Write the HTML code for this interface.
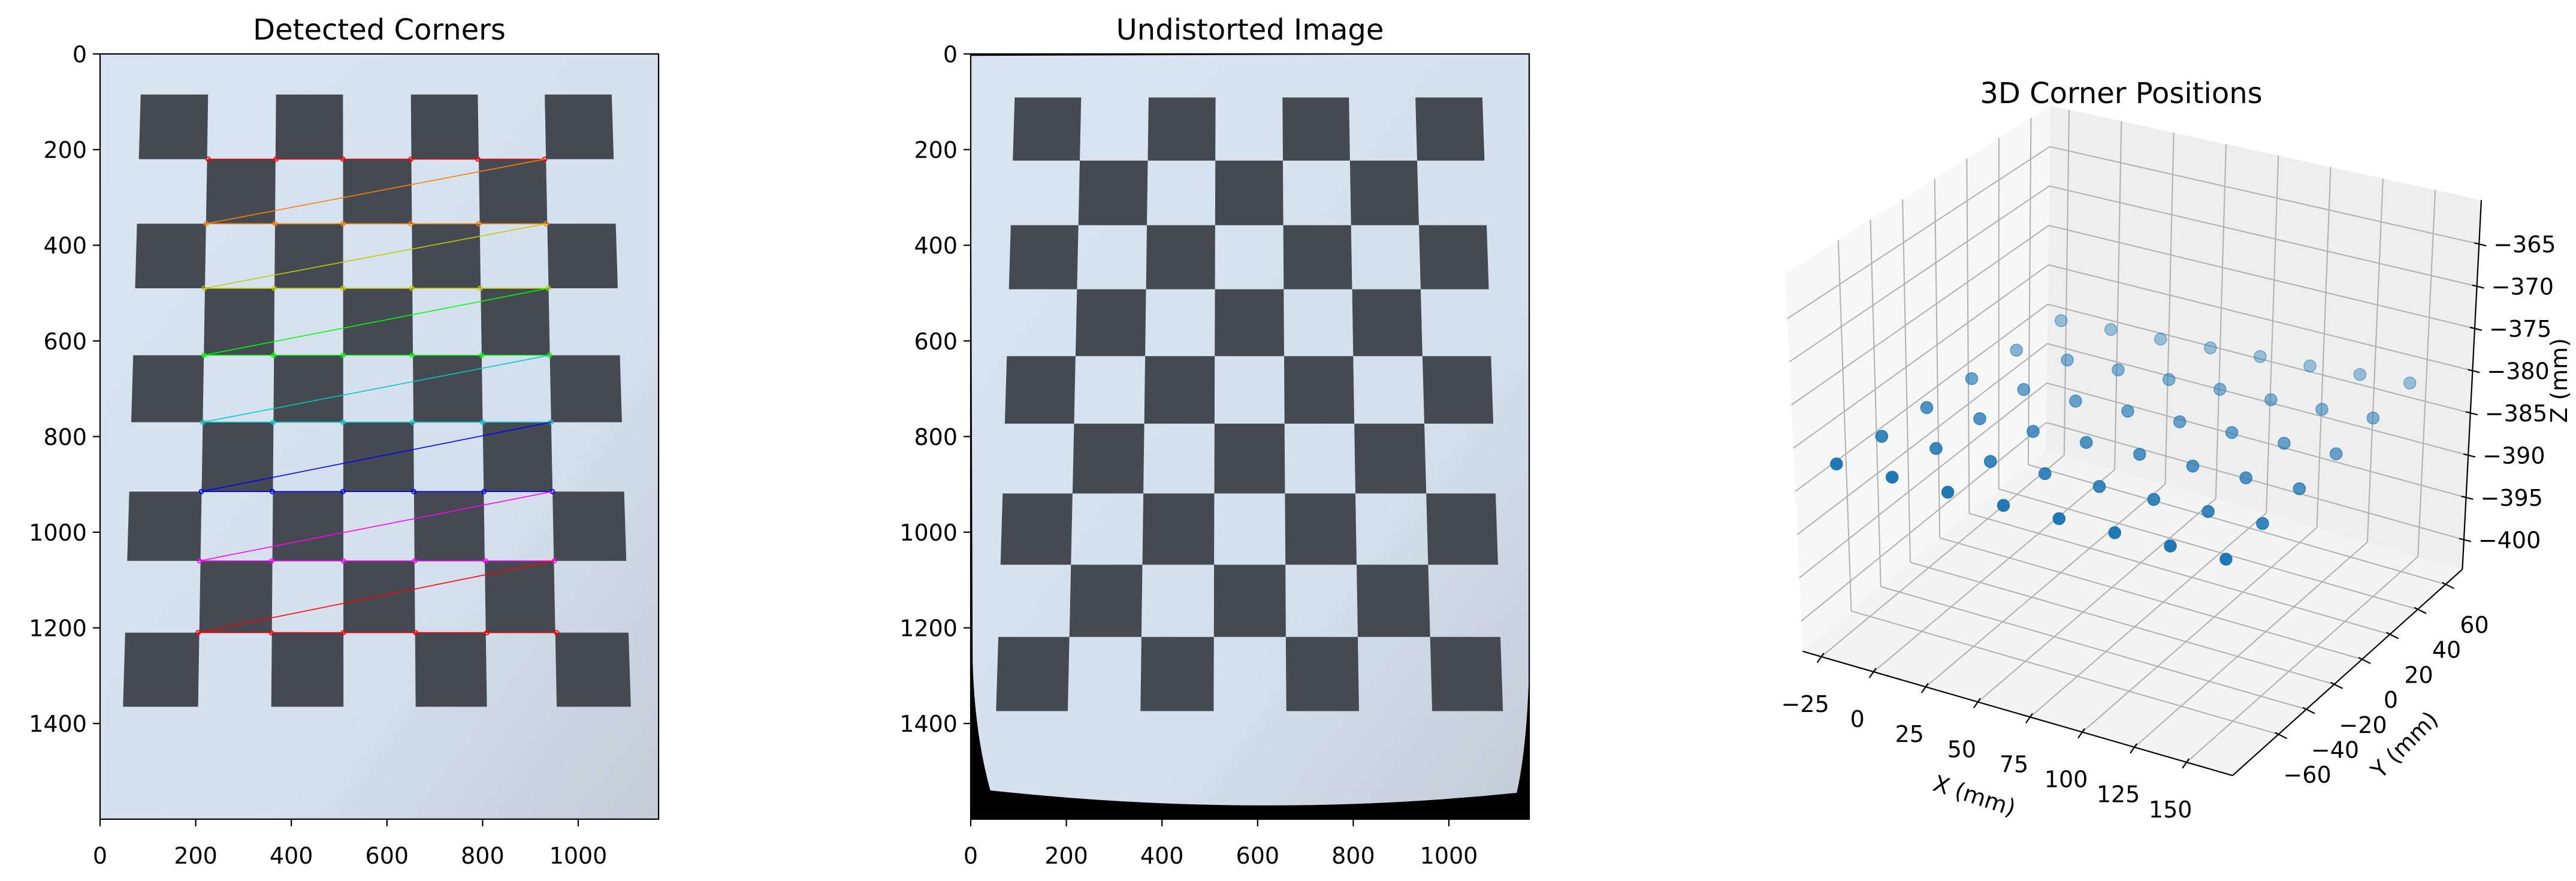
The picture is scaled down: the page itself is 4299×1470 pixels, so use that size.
<!DOCTYPE html>
<html><head><meta charset="utf-8">
<style>
html,body{margin:0;padding:0;background:#fff;}
svg{display:block;font-family:"DejaVu Sans","Liberation Sans",sans-serif;}
</style></head>
<body>
<svg id="fig" width="4299" height="1470" viewBox="0 0 4299 1470" xmlns="http://www.w3.org/2000/svg">
<defs>
<linearGradient id="paper" x1="0" y1="0" x2="1" y2="1">
<stop offset="0" stop-color="#d8e4f1"/><stop offset="0.65" stop-color="#d4e0ed"/><stop offset="1" stop-color="#c3ccd7"/>
</linearGradient>
<clipPath id="clip1"><rect x="167" y="90" width="932" height="1277"/></clipPath>
<clipPath id="clip2"><rect x="1620" y="90" width="932" height="1277"/></clipPath>
</defs>
<g id="p1"></g>
<g id="p2"></g>
<g id="p3"></g>
</svg>
<script>
const NS="http://www.w3.org/2000/svg";
// ---- image panel data (image pixel units) ----
const xTicks=[0,200,400,600,800,1000];
const yTicks=[0,200,400,600,800,1000,1200,1400];
const imgW=1168, imgH=1600;
const rowLines1=[85,220,355,490,630,770,915,1060,1210,1365];
const colTop1=[85,226,368,508,650,790,930,1070];
const colBot1=[48,205,358,509,660,809,955,1110];
const rowLines2=[91,223,358,492,632,773,919,1068,1219,1374];
const colTop2=[92,231,372,512,652,791,930,1070];
const colBot2=[53,203,355,508,660,812,965,1113];
const cornerY=[220,355,490,630,770,915,1060,1210];
const cornerX=[
[226,368,508,650,790,930],
[222,366,508,650,792,933],
[218,364,508,652,795,937],
[217,363,508,653,798,940],
[215,362,508,654,800,943],
[212,360,508,656,803,946],
[208,359,509,658,806,950],
[205,358,509,660,809,955]];
const rowColors=["#ff0000","#ff8000","#c8c800","#00ff00","#00c8c8","#0000ff","#ff00ff","#ff0000"];
// ---- 3D data ----
const xVals=[
[-25,-0.8,23.4,47.6,71.8,96,120.2,144.4],
[-23.4,1.2,25.8,50.3,74.9,99.5,124.1,148.7],
[-21.8,3.2,28.1,53.1,78.0,103.0,128.0,152.9],
[-20.2,5.1,30.5,55.8,81.2,106.5,131.8,157.2],
[-18.6,7.1,32.8,58.6,84.3,110.0,135.7,161.4],
[-17,9.1,35.2,61.3,87.4,113.5,139.6,165.7]];
const yVals=[68.7,37.2,5.7,-25.8,-57.3,-88.8];
const zVals=[
[-386.0,-385.5,-385.1,-384.6,-384.1,-383.7,-383.2,-382.7],
[-385.1,-384.7,-384.3,-383.9,-383.5,-383.2,-382.8,-382.3],
[-384.1,-383.8,-383.6,-383.2,-382.9,-382.6,-382.3,-382.0],
[-383.2,-382.9,-382.8,-382.5,-382.3,-382.1,-381.9,-381.6],
[-382.3,-382.1,-382.0,-381.8,-381.7,-381.6,-381.4,-381.2],
[-381.3,-381.2,-381.3,-381.2,-381.1,-381.1,-381.0,-380.9]];
const x3Ticks=[-25,0,25,50,75,100,125,150];
const y3Ticks=[-60,-40,-20,0,20,40,60];
const z3Ticks=[-400,-395,-390,-385,-380,-375,-370,-365];
const xLim=[-34,172], yLim=[-93,72], zLim=[-403.5,-359.8];

function el(tag,attrs,parent){const e=document.createElementNS(NS,tag);for(const k in attrs)e.setAttribute(k,attrs[k]);if(parent)parent.appendChild(e);return e;}
const S=0.798;

function drawImagePanel(g,ox,rows,cTop,cBot,clipId,undist){
  const tx=u=>ox+u*S, ty=v=>90+v*S;
  const img=el('g',{'clip-path':'url(#'+clipId+')'},g);
  
  
  if(undist){
    el('rect',{x:tx(0),y:ty(0),width:imgW*S,height:imgH*S,fill:'#000'},img);
    const d=`M${tx(0)},${ty(4)} L${tx(1168)},${ty(0)} L${tx(1168)},${ty(1270)} Q${tx(1165)},${ty(1440)} ${tx(1142)},${ty(1545)} Q${tx(600)},${ty(1600)} ${tx(41)},${ty(1540)} Q${tx(8)},${ty(1420)} ${tx(4)},${ty(1270)} Z`;
    el('path',{d:d,fill:'url(#paper)'},img);
  } else {
    el('rect',{x:tx(0),y:ty(0),width:imgW*S,height:imgH*S,fill:'url(#paper)'},img);
  }
  const xAt=(i,v)=>{const t=(v-rows[0])/(rows[rows.length-1]-rows[0]);return cTop[i]+(cBot[i]-cTop[i])*t;};
  for(let r=0;r<rows.length-1;r++){
    for(let c=0;c<cTop.length-1;c++){
      if((r+c)%2!==0)continue;
      const y0=rows[r],y1=rows[r+1];
      const pts=[[xAt(c,y0),y0],[xAt(c+1,y0),y0],[xAt(c+1,y1),y1],[xAt(c,y1),y1]];
      const q=el('polygon',{points:pts.map(p=>tx(p[0]).toFixed(1)+','+ty(p[1]).toFixed(1)).join(' '),fill:'#454951'},img);
      
      
    }
  }
  return {tx,ty,img};
}
function drawAxesFrame(g,ox,title){
  const tx=u=>ox+u*S, ty=v=>90+v*S;
  el('rect',{x:ox,y:90,width:imgW*S,height:imgH*S,fill:'none',stroke:'#000','stroke-width':2.2},g);
  xTicks.forEach(v=>{
    el('line',{x1:tx(v),y1:ty(imgH),x2:tx(v),y2:ty(imgH)+12,stroke:'#000','stroke-width':2.2},g);
    const t=el('text',{x:tx(v),y:1441,'text-anchor':'middle','font-size':38},g);t.textContent=v;
    
    
  });
  yTicks.forEach(v=>{
    el('line',{x1:ox-12,y1:ty(v),x2:ox,y2:ty(v),stroke:'#000','stroke-width':2.2},g);
    const t=el('text',{x:ox-22,y:ty(v)+14,'text-anchor':'end','font-size':38},g);t.textContent=v;
    
    
  });
  const t=el('text',{x:ox+imgW*S/2,y:66,'text-anchor':'middle','font-size':48},g);t.textContent=title;
  
  
}
// Panel 1
const g1=document.getElementById('p1');
const P1=drawImagePanel(g1,167,rowLines1,colTop1,colBot1,'clip1',false);
let prev=null;
for(let r=0;r<cornerY.length;r++){
  for(let c=0;c<cornerX[r].length;c++){
    const p=[P1.tx(cornerX[r][c]),P1.ty(cornerY[r])];
    if(prev){const l=el('line',{x1:prev[0],y1:prev[1],x2:p[0],y2:p[1],stroke:rowColors[r],'stroke-width':1.6},P1.img);
      
      }
    const m=el('circle',{cx:p[0],cy:p[1],r:3.5,fill:'none',stroke:rowColors[r],'stroke-width':1.8},P1.img);
    
    
    prev=p;
  }
}
drawAxesFrame(g1,167,'Detected Corners');
// Panel 2
const g2=document.getElementById('p2');
drawImagePanel(g2,1620,rowLines2,colTop2,colBot2,'clip2',true);
drawAxesFrame(g2,1620,'Undistorted Image');

// Panel 3 : 3D
const g3=document.getElementById('p3');
const F=p=>[2900+p[0]/1.108,100+p[1]/1.206];
const A=[120,1190],B=[915,1440],C=[1340,1025],D=[570,785];
const Ap=[88,430],Bp=[918,630],Cp=[1375,282],Dp=[578,92];
function bil(P00,P10,P11,P01,s,t){return[
 P00[0]*(1-s)*(1-t)+P10[0]*s*(1-t)+P11[0]*s*t+P01[0]*(1-s)*t,
 P00[1]*(1-s)*(1-t)+P10[1]*s*(1-t)+P11[1]*s*t+P01[1]*(1-s)*t];}
function proj(x,y,z){
  const s=(x-xLim[0])/(xLim[1]-xLim[0]),t=(y-yLim[0])/(yLim[1]-yLim[0]),h=(z-zLim[0])/(zLim[1]-zLim[0]);
  const f=bil(A,B,C,D,s,t),tp=bil(Ap,Bp,Cp,Dp,s,t);
  return F([f[0]+(tp[0]-f[0])*h,f[1]+(tp[1]-f[1])*h]);
}
const poly=(pts,fill,name)=>{const p=el('polygon',{points:pts.map(q=>q[0].toFixed(1)+','+q[1].toFixed(1)).join(' '),fill:fill,stroke:'none'},g3);
  
  };
const [x0,x1]=xLim,[y0,y1]=yLim,[z0,z1]=zLim;
poly([proj(x0,y0,z0),proj(x0,y1,z0),proj(x0,y1,z1),proj(x0,y0,z1)],'#f7f7f7','left-pane');
poly([proj(x0,y1,z0),proj(x1,y1,z0),proj(x1,y1,z1),proj(x0,y1,z1)],'#eeeeee','back-pane');
poly([proj(x0,y0,z0),proj(x1,y0,z0),proj(x1,y1,z0),proj(x0,y1,z0)],'#f3f3f3','floor-pane');
const grid=(a,b)=>{const l=el('line',{x1:a[0],y1:a[1],x2:b[0],y2:b[1],stroke:'#b0b0b0','stroke-width':2},g3);
  
  };
x3Ticks.forEach(v=>{grid(proj(v,y0,z0),proj(v,y1,z0));grid(proj(v,y1,z0),proj(v,y1,z1));});
y3Ticks.forEach(v=>{grid(proj(x0,v,z0),proj(x1,v,z0));grid(proj(x0,v,z0),proj(x0,v,z1));});
z3Ticks.forEach(v=>{grid(proj(x0,y0,v),proj(x0,y1,v));grid(proj(x0,y1,v),proj(x1,y1,v));});
const axl=(a,b)=>{el('line',{x1:a[0],y1:a[1],x2:b[0],y2:b[1],stroke:'#000','stroke-width':2.2},g3);};
axl(proj(x0,y0,z0),proj(x1,y0,z0));
axl(proj(x1,y0,z0),proj(x1,y1,z0));
axl(proj(x1,y1,z0),proj(x1,y1,z1));
const txt=(s,p,fs,anchor,rot,name)=>{const t=el('text',{x:p[0],y:p[1],'font-size':fs,'text-anchor':anchor||'middle'},g3);
  if(rot)t.setAttribute('transform',`rotate(${rot} ${p[0]} ${p[1]})`);t.textContent=s;
  
  return t;};
x3Ticks.forEach(v=>{const p=proj(v,y0,z0);axl([p[0]+4,p[1]-6],[p[0]-7,p[1]+10]);
  txt(String(v).replace('-','\u2212'),[p[0]-27,p[1]+92],38,'middle',0,'x-tick-label');});
y3Ticks.forEach(v=>{const p=proj(x1,v,z0);axl([p[0]-6,p[1]-3],[p[0]+14,p[1]+7]);
  txt(String(v).replace('-','\u2212'),[p[0]+48,p[1]+81],38,'middle',0,'y-tick-label');});
z3Ticks.forEach(v=>{const p=proj(x1,y1,v);axl([p[0]-8,p[1]-2],[p[0]+12,p[1]+3]);
  txt(String(v).replace('-','\u2212'),[p[0]+24,p[1]+14],38,'start',0,'z-tick-label');});
txt('X (mm)',[3291,1340],38,'middle',18,'x-axis-title');
txt('Y (mm)',[4022,1252],38,'middle',-45,'y-axis-title');
txt('Z (mm)',[4284,635],38,'middle',-90,'z-axis-title');
txt('3D Corner Positions',[3540,172],48,'middle',0,'panel-title');
// points back to front
for(let j=0;j<yVals.length;j++){
  for(let i=0;i<xVals[j].length;i++){
    const p=proj(xVals[j][i],yVals[j],zVals[j][i]);
    const op=0.42+0.116*j;
    const c=el('circle',{cx:p[0].toFixed(1),cy:p[1].toFixed(1),r:10,fill:'#1f77b4','fill-opacity':op,stroke:'#1f77b4','stroke-opacity':Math.min(1,op+0.1),'stroke-width':1.5},g3);
    
    
  }
}
</script>
</body></html>
